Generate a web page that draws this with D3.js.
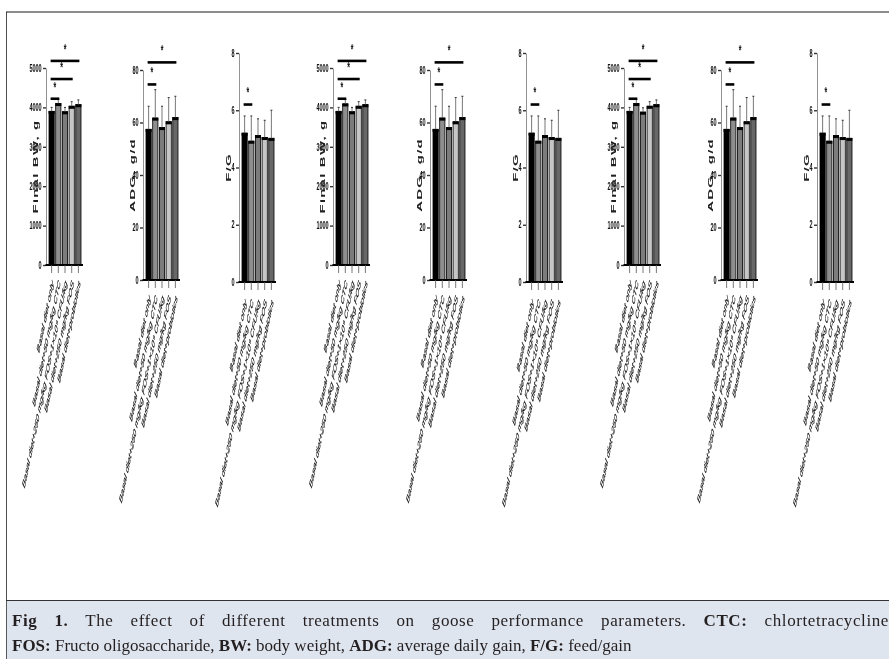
<!DOCTYPE html>
<html>
<head>
<meta charset="utf-8">
<script src="https://cdn.jsdelivr.net/npm/d3@7"></script>
<style>
  body { margin: 0; background: #fff; }
  svg { display: block; will-change: transform; }
</style>
</head>
<body>
<svg id="chart" width="889" height="659"></svg>
<script>
// treatments (x labels), same five bars in every panel
const treatments = [
    "Basal diet only",
    "Basal diet+50 mg/kg CTC",
    "Basal diet+250 mg/kg FOS+1×10⁹ CFU/kg",
    "Basal diet+250 mg/kg FOS",
    "Basal diet+probiotics"
];
const panelTitles = ["Final BW, g", "ADG, g/d", "F/G"];
const yMax = [5000, 80, 8];
const yTicks = [[0, 1000, 2000, 3000, 4000, 5000], [0, 20, 40, 60, 80], [0, 2, 4, 6, 8]];

// one row per panel group (three repeated groups)
const finalBW = [
    [3900, 4100, 3890, 4030, 4070],
    [3900, 4090, 3890, 4030, 4070],
    [3900, 4100, 3880, 4030, 4070]
];
const finalBWsd = [
    [100, 110, 110, 115, 120],
    [100, 110, 110, 115, 120],
    [100, 110, 110, 115, 120]
];
const adg = [
    [57.4, 61.7, 58.1, 60.3, 61.9],
    [57.4, 61.7, 58.1, 60.3, 61.9],
    [57.4, 61.7, 58.1, 60.3, 61.9]
];
const adgSd = [
    [8.8, 10.8, 8.1, 9.2, 8.1],
    [8.8, 10.8, 8.1, 9.2, 8.1],
    [8.8, 10.8, 8.1, 9.2, 8.1]
];
const fg = [
    [5.2, 4.92, 5.12, 5.05, 5.02],
    [5.2, 4.92, 5.12, 5.05, 5.02],
    [5.2, 4.92, 5.12, 5.05, 5.02]
];
const fgSd = [
    [0.6, 0.88, 0.58, 0.6, 0.98],
    [0.6, 0.88, 0.58, 0.6, 0.98],
    [0.6, 0.88, 0.58, 0.6, 0.98]
];
// significance brackets: [from bar, to bar, height in data units]
const bwSig = [[0, 1, 4220], [0, 3, 4720], [0, 4, 5180]];
const adgSig = [[0, 1, 74.5], [0, 4, 82.9]];
const fgSig = [[0, 1, 6.2]];

const barColors = ["#000000", "#8e8e8e", "#7c7c7c", "#c6c6c6", "#686868"];

const svg = d3.select("#chart");
const W = 889, H = 659;

svg.append("rect").attr("width", W).attr("height", H).attr("fill", "#fff");

// page frame
svg.append("rect").attr("x", 6).attr("y", 11).attr("width", W - 6).attr("height", 2).attr("fill", "#8c8c8c");
svg.append("line").attr("x1", 6.5).attr("x2", 6.5).attr("y1", 12).attr("y2", 600)
    .attr("stroke", "#222").attr("stroke-width", 0.8);

// panel layout
const groupX = [0, 287, 578];
const panelX = [46, 143, 239];
const panelY = [[265, 68], [280, 70], [282, 53]];
const labelStart = [16, 16, 18];

const panelData = [
    { means: finalBW, sds: finalBWsd, sig: bwSig },
    { means: adg, sds: adgSd, sig: adgSig },
    { means: fg, sds: fgSd, sig: fgSig }
];

function drawPanel(x0, p, g) {
    const [yb, yt] = panelY[p];
    const means = panelData[p].means[g];
    const sds = panelData[p].sds[g];
    const sig = panelData[p].sig;

    const y = d3.scaleLinear().domain([0, yMax[p]]).range([yb, yt]);
    const x = d3.scaleBand().domain(d3.range(treatments.length))
        .range([x0 + 3, x0 + 35]).paddingInner(0.22).paddingOuter(0);
    const cx = i => x(i) + x.bandwidth() / 2;

    const panel = svg.append("g");

    // y axis
    const ax = panel.append("g")
        .attr("transform", `translate(${x0},0)`)
        .call(d3.axisLeft(y).tickValues(yTicks[p]).tickSize(3).tickSizeOuter(0).tickFormat(d3.format("d")));
    ax.select(".domain").attr("stroke", "#777").attr("stroke-width", 0.8);
    ax.selectAll(".tick line").attr("stroke", "#333").attr("stroke-width", 1.4);
    ax.selectAll(".tick text")
        .attr("x", -8)
        .attr("transform", "scale(0.55,1)")
        .attr("font-family", "Liberation Sans, Arial, sans-serif")
        .attr("font-weight", "bold")
        .attr("font-size", 10)
        .attr("fill", "#111");

    // y title
    panel.append("text")
        .attr("transform", `translate(${x0 - 10.5},${(yb + yt) / 2}) rotate(-90) scale(1,0.5)`)
        .attr("text-anchor", "middle")
        .attr("dy", "0.35em")
        .attr("font-family", "Liberation Sans, Arial, sans-serif")
        .attr("font-weight", "bold")
        .attr("font-size", 15)
        .attr("letter-spacing", 1.2)
        .attr("fill", "#222")
        .text(panelTitles[p]);

    // bars
    const bars = panel.selectAll("g.bar").data(means).join("g").attr("class", "bar");
    bars.append("rect")
        .attr("x", (d, i) => x(i))
        .attr("y", d => y(d))
        .attr("width", x.bandwidth())
        .attr("height", d => yb - y(d))
        .attr("fill", (d, i) => barColors[i])
        .attr("stroke", "#000")
        .attr("stroke-width", 0.8);
    bars.append("rect")
        .attr("x", (d, i) => x(i) - 0.4)
        .attr("y", d => y(d) - 0.4)
        .attr("width", x.bandwidth() + 0.8)
        .attr("height", 3)
        .attr("fill", "#000");

    // error bars
    bars.append("line")
        .attr("x1", (d, i) => cx(i)).attr("x2", (d, i) => cx(i))
        .attr("y1", d => y(d))
        .attr("y2", (d, i) => y(d + sds[i]))
        .attr("stroke", "#555").attr("stroke-width", 0.8);
    bars.append("line")
        .attr("x1", (d, i) => cx(i) - 1).attr("x2", (d, i) => cx(i) + 1)
        .attr("y1", (d, i) => y(d + sds[i])).attr("y2", (d, i) => y(d + sds[i]))
        .attr("stroke", "#333").attr("stroke-width", 1);

    // x baseline and ticks
    panel.append("line")
        .attr("x1", x0 - 0.5).attr("x2", x0 + 37)
        .attr("y1", yb).attr("y2", yb)
        .attr("stroke", "#000").attr("stroke-width", 2.2);
    panel.selectAll("line.xt").data(treatments).join("line").attr("class", "xt")
        .attr("x1", (d, i) => cx(i)).attr("x2", (d, i) => cx(i))
        .attr("y1", yb).attr("y2", yb + 8)
        .attr("stroke", "#555").attr("stroke-width", 0.8);

    // x labels (squeezed, steep)
    panel.selectAll("text.xl").data(treatments).join("text").attr("class", "xl")
        .attr("transform", (d, i) => `translate(${cx(i) + 1},${yb + labelStart[p]}) scale(0.32,1) rotate(-57)`)
        .attr("text-anchor", "end")
        .attr("dy", "0.35em")
        .attr("font-family", "Liberation Sans, Arial, sans-serif")
        .attr("font-size", 13)
        .attr("fill", "#000")
        .attr("stroke", "#222")
        .attr("stroke-width", 0.35)
        .text(d => d);

    // significance brackets
    sig.forEach(([a, b, v]) => {
        panel.append("line")
            .attr("x1", cx(a) - 1).attr("x2", cx(b) + 1)
            .attr("y1", y(v)).attr("y2", y(v))
            .attr("stroke", "#000").attr("stroke-width", 2.6);
        panel.append("text")
            .attr("transform", `translate(${(cx(a) + cx(b)) / 2},${y(v) - 17}) scale(0.5,1)`)
            .attr("text-anchor", "middle")
            .attr("dy", "0.7em")
            .attr("font-family", "Liberation Sans, Arial, sans-serif")
            .attr("font-weight", "bold")
            .attr("font-size", 14)
            .attr("fill", "#111")
            .text("*");
    });
}

groupX.forEach((gx, g) => {
    panelX.forEach((px, p) => drawPanel(gx + px, p, g));
});

// caption box
svg.append("rect").attr("x", 6).attr("y", 600).attr("width", W - 6).attr("height", H - 600).attr("fill", "#dfe5ef");
svg.append("line").attr("x1", 6).attr("x2", W).attr("y1", 600.5).attr("y2", 600.5)
    .attr("stroke", "#333").attr("stroke-width", 1.2);
svg.append("line").attr("x1", 6.5).attr("x2", 6.5).attr("y1", 600).attr("y2", H)
    .attr("stroke", "#333").attr("stroke-width", 0.8);

const captionLines = [
    [["Fig 1.", true], [" The effect of different treatments on goose performance parameters. ", false], ["CTC:", true], [" chlortetracycline", false]],
    [["FOS:", true], [" Fructo oligosaccharide, ", false], ["BW:", true], [" body weight, ", false], ["ADG:", true], [" average daily gain, ", false], ["F/G:", true], [" feed/gain", false]]
];
const captionY = [626, 651];

captionLines.forEach((line, k) => {
    const t = svg.append("text")
        .attr("x", 12).attr("y", captionY[k])
        .attr("font-family", "Liberation Serif, 'Times New Roman', serif")
        .attr("font-size", 17)
        .attr("fill", "#231f20")
        .attr("xml:space", "preserve");
    line.forEach(([s, b]) => {
        t.append("tspan").attr("font-weight", b ? "bold" : "normal").text(s);
    });
    // first line is justified to the right edge: a little letter spacing plus word spacing
    if (k === 0) {
        const str = line.map(d => d[0]).join("");
        t.attr("letter-spacing", 0.6);
        const w = t.node().getComputedTextLength();
        const spaces = str.split(" ").length - 1;
        t.attr("word-spacing", Math.max(0, (889 - 12 - w) / spaces));
    }
});
</script>
</body>
</html>
